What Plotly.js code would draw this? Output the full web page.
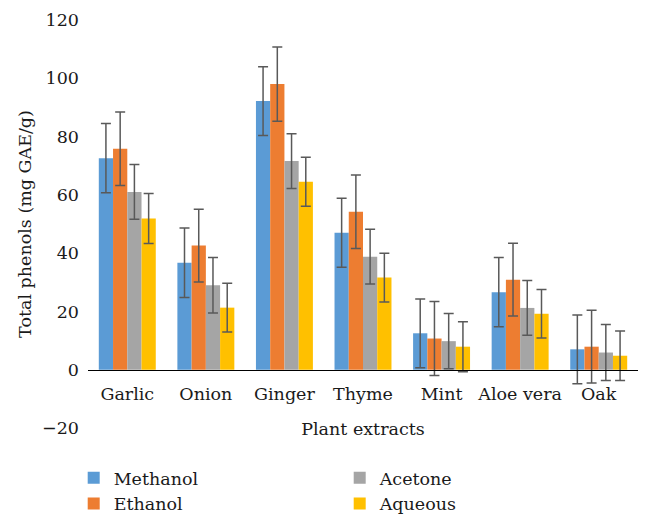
<!DOCTYPE html>
<html>
<head>
<meta charset="utf-8">
<script src="https://cdn.plot.ly/plotly-3.0.1.min.js"></script>
<style>html,body{margin:0;padding:0;background:#fff}#chart{width:652px;height:527px}</style>
</head>
<body>
<div id="chart"></div>
<script>
const categories = ["Garlic", "Onion", "Ginger", "Thyme", "Mint", "Aloe vera", "Oak"];
const methanol = [72.6, 36.7, 92.2, 47.0, 12.5, 26.6, 7.0];
const methanolErr = [11.9, 11.9, 11.8, 11.8, 11.8, 11.9, 11.8];
const ethanol = [75.8, 42.6, 98.0, 54.2, 10.7, 30.9, 7.9];
const ethanolErr = [12.6, 12.5, 12.7, 12.6, 12.7, 12.5, 12.5];
const acetone = [61.0, 29.0, 71.6, 38.8, 9.8, 21.2, 5.9];
const acetoneErr = [9.4, 9.5, 9.4, 9.4, 9.5, 9.4, 9.6];
const aqueous = [51.9, 21.3, 64.5, 31.6, 7.9, 19.2, 4.8];
const aqueousErr = [8.6, 8.4, 8.4, 8.4, 8.6, 8.3, 8.5];
const yTicks = [-20, 0, 20, 40, 60, 80, 100, 120];

const FONT = "DejaVu Serif";
const FS = 17.5;
const errStyle = (arr) => ({type: "data", array: arr, visible: true, color: "#595959", thickness: 1.5, width: 5});

const series = [
  {name: "Methanol", y: methanol, err: methanolErr, color: "#5B9BD5", rank: 1},
  {name: "Ethanol", y: ethanol, err: ethanolErr, color: "#ED7D31", rank: 3},
  {name: "Acetone", y: acetone, err: acetoneErr, color: "#A5A5A5", rank: 2},
  {name: "Aqueous", y: aqueous, err: aqueousErr, color: "#FFC000", rank: 4}
];

const data = series.map(s => ({
  type: "bar",
  name: s.name,
  x: categories,
  y: s.y,
  marker: {color: s.color},
  error_y: errStyle(s.err),
  legendrank: s.rank
}));

const layout = {
  width: 652, height: 527,
  margin: {l: 88, r: 14, t: 20, b: 99, pad: 0, autoexpand: false},
  paper_bgcolor: "#fff", plot_bgcolor: "#fff",
  font: {family: FONT, size: FS, color: "#1a1a1a"},
  bargap: 0.275, bargroupgap: 0, barmode: "group",
  showlegend: true,
  legend: {
    orientation: "h",
    x: -0.026, xanchor: "left",
    y: -0.078, yanchor: "top",
    entrywidth: 221, entrywidthmode: "pixels",
    font: {family: FONT, size: FS, color: "#1a1a1a"},
    bgcolor: "rgba(0,0,0,0)"
  },
  xaxis: {
    type: "category",
    anchor: "free", position: 0.1422,
    automargin: false,
    showline: true, linecolor: "#000", linewidth: 1.5,
    ticks: "", showgrid: false, zeroline: false,
    ticklabelstandoff: 8,
    tickfont: {family: FONT, size: FS, color: "#1a1a1a"},
    title: {text: "Plant extracts", font: {family: FONT, size: FS, color: "#1a1a1a"}, standoff: 19}
  },
  yaxis: {
    range: [-20, 120],
    tickvals: yTicks,
    automargin: false,
    ticks: "", showgrid: false, zeroline: false, showline: false,
    ticklabelstandoff: 8,
    tickfont: {family: FONT, size: FS, color: "#1a1a1a"},
    title: {text: "Total phenols (mg GAE/g)", font: {family: FONT, size: FS, color: "#1a1a1a"}, standoff: 5}
  }
};

Plotly.newPlot("chart", data, layout, {displayModeBar: false, staticPlot: true});
</script>
</body>
</html>
